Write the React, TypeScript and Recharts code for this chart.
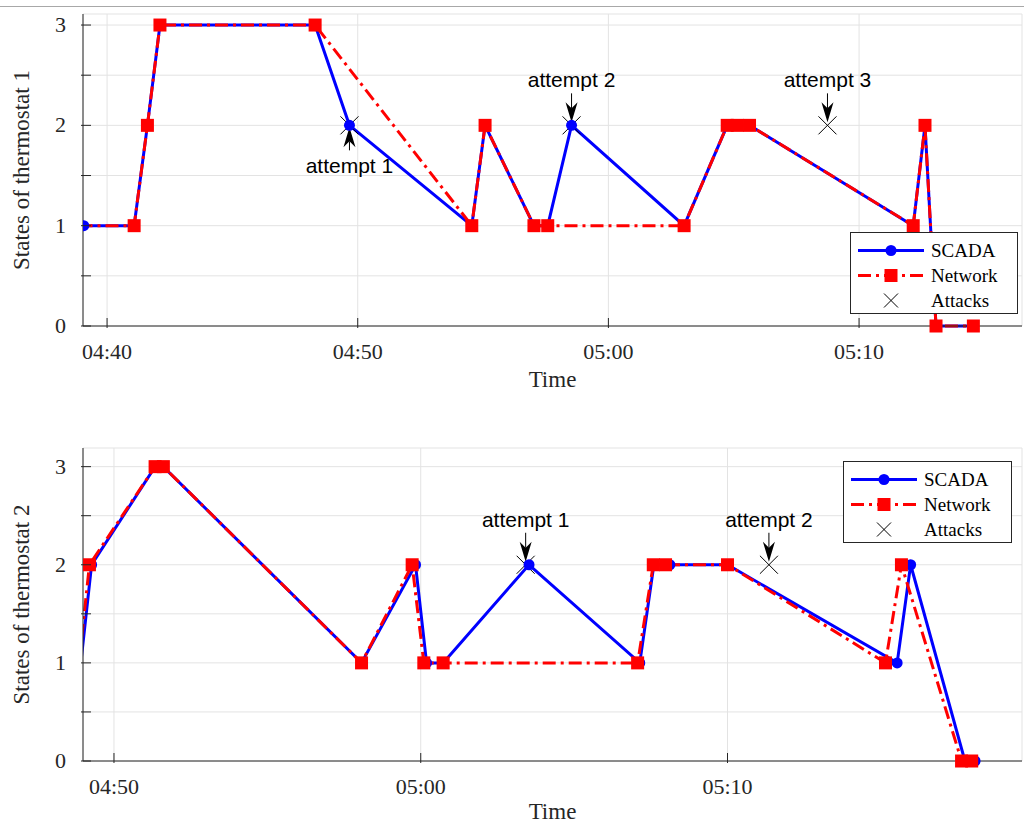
import React from 'react'
import { ComposedChart, Line, Scatter, XAxis, YAxis, CartesianGrid, Legend } from 'recharts'

// time is in minutes after 04:00, value is the thermostat state
const scada1 = [
  { t: 39.07, v: 1 }, { t: 41.08, v: 1 }, { t: 41.61, v: 2 }, { t: 42.11, v: 3 },
  { t: 48.3, v: 3 }, { t: 49.67, v: 2 }, { t: 54.55, v: 1 }, { t: 55.08, v: 2 },
  { t: 57.03, v: 1 }, { t: 57.58, v: 1 }, { t: 58.53, v: 2 }, { t: 63.02, v: 1 },
  { t: 64.74, v: 2 }, { t: 65.14, v: 2 }, { t: 65.63, v: 2 }, { t: 72.16, v: 1 },
  { t: 72.63, v: 2 }, { t: 73.07, v: 0 }, { t: 74.56, v: 0 },
]
const network1 = [
  { t: 38.9, v: 1 }, { t: 41.08, v: 1 }, { t: 41.61, v: 2 }, { t: 42.11, v: 3 },
  { t: 48.3, v: 3 }, { t: 54.55, v: 1 }, { t: 55.08, v: 2 }, { t: 57.03, v: 1 },
  { t: 57.58, v: 1 }, { t: 63.02, v: 1 }, { t: 64.74, v: 2 }, { t: 65.14, v: 2 },
  { t: 65.63, v: 2 }, { t: 72.16, v: 1 }, { t: 72.63, v: 2 }, { t: 73.07, v: 0 },
  { t: 74.56, v: 0 },
]
const attacks1 = [
  { t: 49.67, v: 2, label: 'attempt 1', dir: 'up' },
  { t: 58.53, v: 2, label: 'attempt 2', dir: 'down' },
  { t: 68.74, v: 2, label: 'attempt 3', dir: 'down' },
]

const scada2 = [
  { t: 48.92, v: 1 }, { t: 49.27, v: 2 }, { t: 51.34, v: 3 }, { t: 51.61, v: 3 },
  { t: 58.07, v: 1 }, { t: 59.83, v: 2 }, { t: 60.19, v: 1 }, { t: 60.73, v: 1 },
  { t: 63.53, v: 2 }, { t: 67.14, v: 1 }, { t: 67.6, v: 2 }, { t: 68.12, v: 2 },
  { t: 70.0, v: 2 }, { t: 75.53, v: 1 }, { t: 75.97, v: 2 }, { t: 77.74, v: 0 },
  { t: 78.07, v: 0 },
]
const network2 = [
  { t: 48.86, v: 1 }, { t: 49.2, v: 2 }, { t: 51.34, v: 3 }, { t: 51.61, v: 3 },
  { t: 58.07, v: 1 }, { t: 59.72, v: 2 }, { t: 60.1, v: 1 }, { t: 60.73, v: 1 },
  { t: 67.07, v: 1 }, { t: 67.58, v: 2 }, { t: 67.98, v: 2 }, { t: 70.0, v: 2 },
  { t: 75.15, v: 1 }, { t: 75.67, v: 2 }, { t: 77.63, v: 0 }, { t: 77.96, v: 0 },
]
const attacks2 = [
  { t: 63.42, v: 2, label: 'attempt 1', dir: 'down' },
  { t: 71.35, v: 2, label: 'attempt 2', dir: 'down' },
]

const xDomain1 = [39.04, 76.5]
const xDomain2 = [48.99, 79.6]
const xTicks1 = [40, 50, 60, 70]
const xTickLabels1 = ['04:40', '04:50', '05:00', '05:10']
const xTicks2 = [50, 60, 70]
const xTickLabels2 = ['04:50', '05:00', '05:10']
const yTicks = [0, 0.5, 1, 1.5, 2, 2.5, 3]
const yTickLabels = ['0', '', '1', '', '2', '', '3']
const legendNames = ['SCADA', 'Network', 'Attacks']

const AXIS = '#262626'
const GRID = '#e3e3e3'
const SERIF = '"Liberation Serif", "Times New Roman", serif'
const SANS = '"Liberation Sans", Arial, sans-serif'
const TICK_LEN = 10
const DASH = '13 5 3 5'

const bottomTick = (ticks: number[], labels: string[]) => (p: any) => (
  <g>
    <line x1={p.x} y1={p.y} x2={p.x} y2={p.y - TICK_LEN} stroke={AXIS} />
    <text x={p.x} y={p.y + 31} textAnchor="middle" fontFamily={SERIF} fontSize={22} fill={AXIS}>
      {labels[ticks.indexOf(p.payload.value)]}
    </text>
  </g>
)
const topTick = (p: any) => <line x1={p.x} y1={p.y} x2={p.x} y2={p.y + TICK_LEN} stroke={AXIS} />
const leftTick = (p: any) => (
  <g>
    <line x1={p.x} y1={p.y} x2={p.x + TICK_LEN} y2={p.y} stroke={AXIS} />
    <text x={p.x - 15} y={p.y + 7} textAnchor="end" fontFamily={SERIF} fontSize={22} fill={AXIS}>
      {yTickLabels[yTicks.indexOf(p.payload.value)]}
    </text>
  </g>
)
const rightTick = (p: any) => <line x1={p.x - TICK_LEN} y1={p.y} x2={p.x} y2={p.y} stroke={AXIS} />

const timeLabel = (dy: number) => (p: any) => {
  const vb = p.viewBox
  return (
    <text x={vb.x + vb.width / 2} y={vb.y + dy} textAnchor="middle" fontFamily={SERIF} fontSize={23} fill={AXIS}>
      Time
    </text>
  )
}
const stateLabel = (text: string) => (p: any) => {
  const vb = p.viewBox
  const x = vb.x + 29
  const y = vb.y + vb.height / 2
  return (
    <text x={x} y={y} transform={`rotate(-90 ${x} ${y})`} textAnchor="middle" fontFamily={SERIF} fontSize={23} fill={AXIS}>
      {text}
    </text>
  )
}

const circleDot = (min: number) => (p: any) =>
  p.payload.t < min ? <g key={p.index} /> : <circle key={p.index} cx={p.cx} cy={p.cy} r={5.5} fill="#0000ff" />
const squareDot = (min: number) => (p: any) =>
  p.payload.t < min ? <g key={p.index} /> : <rect key={p.index} x={p.cx - 6.5} y={p.cy - 6.5} width={13} height={13} fill="#ff0000" />

const AttackShape = (p: any) => {
  const { cx, cy, payload } = p
  const s = 9
  const down = payload.dir === 'down'
  const tip = down ? cy - 3 : cy + 2
  const tail = down ? cy - 32 : cy + 25
  const k = down ? -1 : 1
  const head = `${cx},${tip} ${cx - 6},${tip + k * 20} ${cx},${tip + k * 14} ${cx + 6},${tip + k * 20}`
  const textY = down ? cy - 38 : cy + 48
  return (
    <g>
      <line x1={cx - s} y1={cy - s} x2={cx + s} y2={cy + s} stroke="#000" />
      <line x1={cx - s} y1={cy + s} x2={cx + s} y2={cy - s} stroke="#000" />
      <line x1={cx} y1={tail} x2={cx} y2={tip + k * 14} stroke="#000" />
      <polygon points={head} fill="#000" />
      <text x={cx} y={textY} textAnchor="middle" fontFamily={SANS} fontSize={21} fill="#000">
        {payload.label}
      </text>
    </g>
  )
}

const LegendBox = () => (
  <div
    style={{
      width: '100%', height: '100%', boxSizing: 'border-box', border: `1px solid ${AXIS}`,
      background: '#fff', paddingTop: 5, fontFamily: SERIF, fontSize: 19, color: '#000',
    }}
  >
    {legendNames.map((name, i) => (
      <div key={name} style={{ display: 'flex', alignItems: 'center', height: 25 }}>
        <svg width={66} height={25} style={{ marginLeft: 7 }}>
          {i === 0 && <line x1={0} y1={12.5} x2={66} y2={12.5} stroke="#0000ff" strokeWidth={3} />}
          {i === 0 && <circle cx={33} cy={12.5} r={5.5} fill="#0000ff" />}
          {i === 1 && <line x1={0} y1={12.5} x2={66} y2={12.5} stroke="#ff0000" strokeWidth={3} strokeDasharray={DASH} />}
          {i === 1 && <rect x={26.5} y={6} width={13} height={13} fill="#ff0000" />}
          {i === 2 && <line x1={26} y1={5.5} x2={40} y2={19.5} stroke="#000" />}
          {i === 2 && <line x1={26} y1={19.5} x2={40} y2={5.5} stroke="#000" />}
        </svg>
        <span style={{ marginLeft: 7 }}>{name}</span>
      </div>
    ))}
  </div>
)

function Panel(props: any) {
  const { scada, network, attacks, xDomain, xTicks, xTickLabels, yMax, height, marginTop, axisHeight, timeDy, ylabel, legendPos } = props
  return (
    <ComposedChart width={1024} height={height} margin={{ top: marginTop, right: 2, bottom: 0, left: 0 }}>
      <CartesianGrid stroke={GRID} />
      <XAxis
        type="number" dataKey="t" domain={xDomain} ticks={xTicks} interval={0} allowDataOverflow
        height={axisHeight} tickSize={0} tickLine={false} axisLine={{ stroke: AXIS }}
        tick={bottomTick(xTicks, xTickLabels)} label={timeLabel(timeDy)}
      />
      <XAxis
        xAxisId="top" orientation="top" type="number" domain={xDomain} ticks={xTicks} interval={0}
        allowDataOverflow height={0} tickSize={0} tickLine={false} axisLine={{ stroke: AXIS }} tick={topTick}
      />
      <YAxis
        type="number" domain={[0, yMax]} ticks={yTicks} interval={0} width={83}
        tickSize={0} tickLine={false} axisLine={{ stroke: AXIS }} tick={leftTick} label={stateLabel(ylabel)}
      />
      <YAxis
        yAxisId="right" orientation="right" type="number" domain={[0, yMax]} ticks={yTicks} interval={0}
        allowDataOverflow width={0} tickSize={0} tickLine={false} axisLine={{ stroke: AXIS }} tick={rightTick}
      />
      <Line
        data={scada} dataKey="v" type="linear" stroke="#0000ff" strokeWidth={3}
        dot={circleDot(xDomain[0])} activeDot={false} isAnimationActive={false}
      />
      <Line
        data={network} dataKey="v" type="linear" stroke="#ff0000" strokeWidth={3} strokeDasharray={DASH}
        dot={squareDot(xDomain[0])} activeDot={false} isAnimationActive={false}
      />
      <Scatter data={attacks} dataKey="v" shape={AttackShape} isAnimationActive={false} />
      <Legend
        layout="vertical" align="center" verticalAlign="middle"
        wrapperStyle={legendPos} content={LegendBox}
      />
    </ComposedChart>
  )
}

export default function App() {
  return (
    <div style={{ position: 'absolute', left: 0, top: 0, width: 1024, height: 825, background: '#fff' }}>
      <div style={{ position: 'absolute', left: 0, top: 6, width: 1024, height: 1, background: '#a8a8a8' }} />
      <div style={{ position: 'absolute', left: 0, top: 0 }}>
        <Panel
          scada={scada1} network={network1} attacks={attacks1}
          xDomain={xDomain1} xTicks={xTicks1} xTickLabels={xTickLabels1} yMax={3.11}
          height={400} marginTop={14} axisHeight={74} timeDy={61}
          ylabel="States of thermostat 1"
          legendPos={{ left: 850, top: 232, width: 168, height: 82 }}
        />
      </div>
      <div style={{ position: 'absolute', left: 0, top: 400 }}>
        <Panel
          scada={scada2} network={network2} attacks={attacks2}
          xDomain={xDomain2} xTicks={xTicks2} xTickLabels={xTickLabels2} yMax={3.19}
          height={425} marginTop={48} axisHeight={64} timeDy={58}
          ylabel="States of thermostat 2"
          legendPos={{ left: 843, top: 61, width: 169, height: 82 }}
        />
      </div>
    </div>
  )
}
